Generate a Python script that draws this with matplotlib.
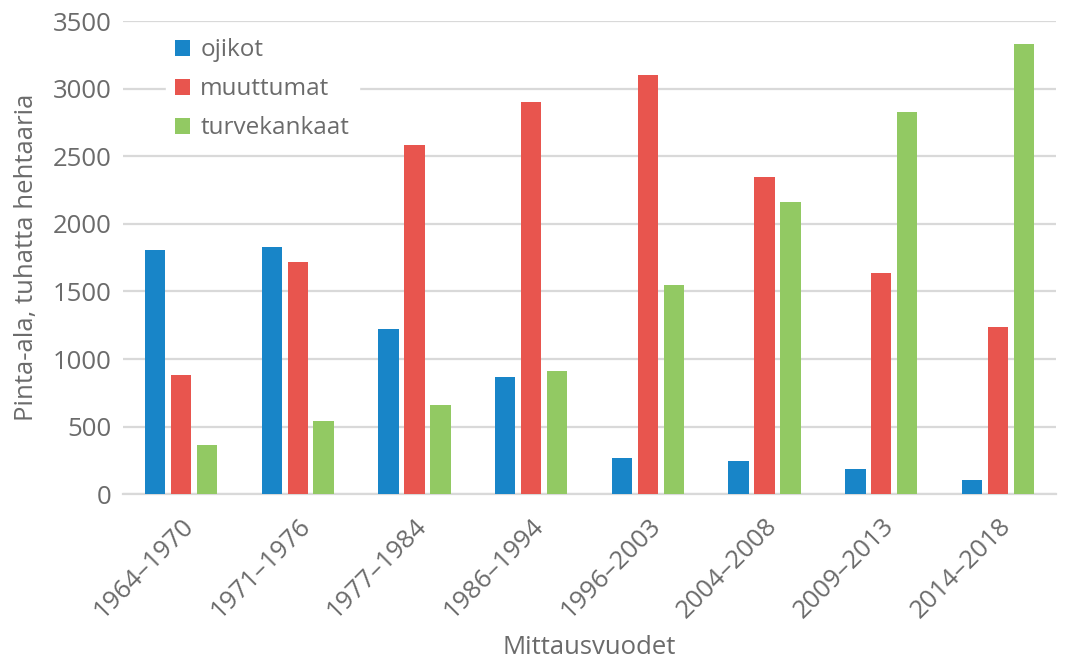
import numpy as np
import matplotlib.pyplot as plt

plt.rcParams['font.family'] = ['Open Sans', 'DejaVu Sans']

periods = ['1964–1970', '1971–1976', '1977–1984', '1986–1994',
           '1996–2003', '2004–2008', '2009–2013', '2014–2018']
ojikot = [1810, 1830, 1220, 870, 265, 245, 185, 105]
muuttumat = [880, 1715, 2585, 2900, 3100, 2350, 1635, 1240]
turvekankaat = [365, 545, 660, 910, 1545, 2165, 2825, 3330]

txt = '#6b6b6b'
grid = '#d9d9d9'
fs = 18.5

fig = plt.figure(figsize=(10.67, 6.59), dpi=100)
ax = fig.add_axes([0.115, 0.25, 0.875, 0.718])

x = np.arange(len(periods))
w = 0.175
step = 0.222
ax.bar(x - step, ojikot, w, color='#1885c8', label='ojikot', zorder=3)
ax.bar(x, muuttumat, w, color='#e8554e', label='muuttumat', zorder=3)
ax.bar(x + step, turvekankaat, w, color='#92c963', label='turvekankaat', zorder=3)

ax.set_xlim(-0.5, len(periods) - 0.5)
ax.set_ylim(0, 3500)
ax.set_yticks(range(0, 3501, 500))
ax.yaxis.grid(True, color=grid, linewidth=1.6, zorder=0)
for s in ['top', 'right', 'left']:
    ax.spines[s].set_visible(False)
ax.spines['bottom'].set_color(grid)
ax.spines['bottom'].set_linewidth(1.6)
ax.set_xticks(x)
ax.set_xticklabels(periods, rotation=45, ha='right', va='top', rotation_mode='anchor')
ax.tick_params(length=0, labelsize=fs, colors=txt, pad=8)
ax.tick_params(axis='x', pad=14)

ax.set_ylabel('Pinta-ala, tuhatta hehtaaria', fontsize=fs, color=txt, labelpad=10)
ax.set_xlabel('Mittausvuodet', fontsize=fs, color=txt, labelpad=8)

leg = ax.legend(loc='upper left', bbox_to_anchor=(0.033, 1.01), fontsize=17.5,
                frameon=True, framealpha=1, edgecolor='white', fancybox=False,
                handlelength=0.62, handleheight=0.62, handletextpad=0.4, labelspacing=0.62)
for t in leg.get_texts():
    t.set_color(txt)

plt.savefig('out.png', dpi=100)
